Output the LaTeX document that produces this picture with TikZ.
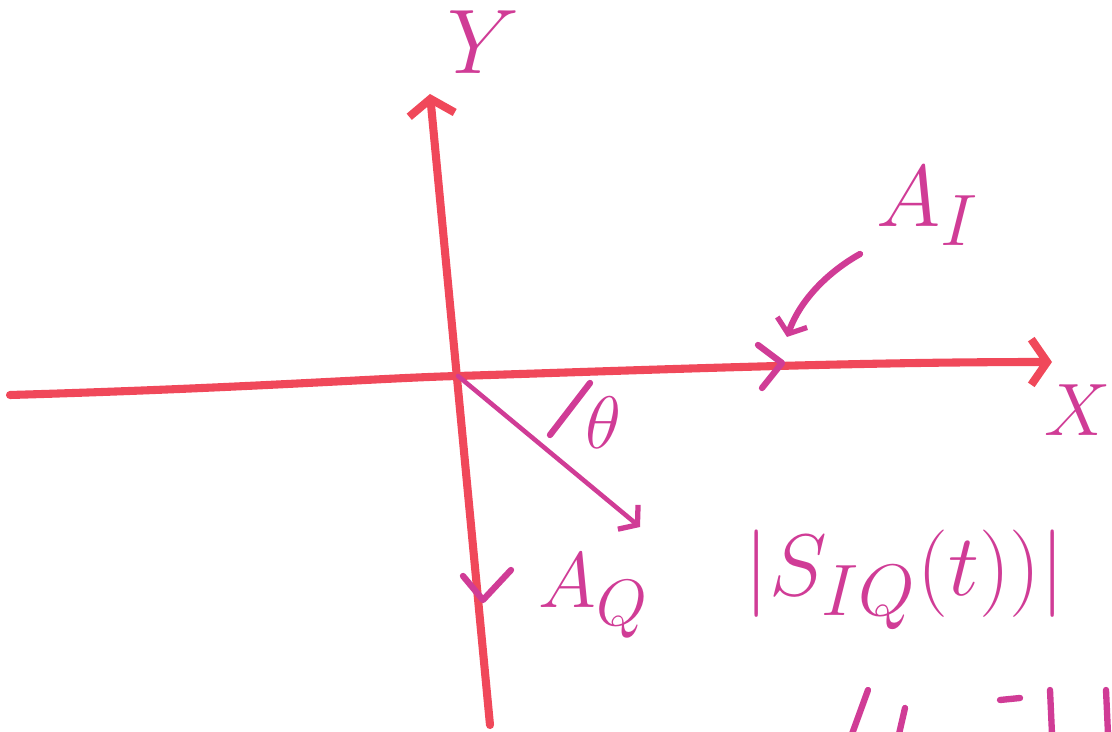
\documentclass[tikz,border=0pt]{standalone}
\usetikzlibrary{calc,arrows.meta}
\definecolor{axisred}{RGB}{240,72,90}
\definecolor{inkpink}{RGB}{208,60,150}

\begin{document}
\begin{tikzpicture}[
    x=0.02cm, y=-0.02cm,
    % Line styles
    axis/.style={draw=axisred, line width=4.6pt, line cap=round, line join=round},
    ink/.style={draw=inkpink, line width=3.6pt, line cap=round, line join=round},
    thin ink/.style={draw=inkpink, line width=2.6pt, line cap=round, line join=round},
    barb/.style={-{Straight Barb[length=9pt, width=26pt, line width=4.6pt]}},
    small barb/.style={-{Straight Barb[length=7pt, width=18pt, line width=3pt]}},
    % Label style
    lbl/.style={text=inkpink, inner sep=0pt, font=\Huge, transform shape, scale=#1},
    lbl/.default=2.1,
]
    \useasboundingbox (0,0) rectangle (1112,732);

    % Axes
    \coordinate (O) at (458,376);
    \coordinate (xstart) at (10,395);
    \coordinate (xend) at (1052,362);
    \coordinate (ystart) at (490,725);
    \coordinate (yend) at (430,94);
    \draw[axis] (xstart) .. controls (250,388) and (380,378) .. (O);
    \draw[axis, barb] (O) .. controls (650,370) and (850,362) .. (xend);
    \draw[axis, barb] (ystart) -- (yend);
    \node[lbl] (ylbl) at (484,42) {$Y$};
    \node[lbl=1.7] (xlbl) at (1078,410) {$X$};

    % In-phase component
    \coordinate (AItick) at (782,363);
    \draw[ink] ($(AItick)+(-24,-18)$) -- (AItick) -- ($(AItick)+(-20,25)$);
    \node[lbl=2.0] (AI) at (928,206) {$A_I$};
    \coordinate (AItail) at (860,254);
    \coordinate (AItip) at (787,337);
    \draw[ink, small barb] (AItail) .. controls (828,272) and (800,300) .. (AItip);

    % Quadrature component
    \coordinate (AQtick) at (483,600);
    \draw[ink] ($(AQtick)+(-20,-24)$) -- (AQtick) -- ($(AQtick)+(28,-30)$);
    \node[lbl=1.8] (AQ) at (594,596) {$A_Q$};

    % Resulting vector and angle
    \coordinate (vtip) at (640,527);
    \draw[thin ink, small barb] (O) -- (vtip);
    \coordinate (arcA) at (550,435);
    \coordinate (arcB) at (590,383);
    \draw[ink] (arcA) -- (arcB);
    \node[lbl=1.7] (theta) at (603,423) {$\theta$};

    % Envelope
    \node[lbl=2.0] (env) at (905,580) {$|S_{IQ}(t))|$};

    % Cut-off line below
    \coordinate (c1) at (868,690);
    \coordinate (c2) at (905,708);
    \coordinate (c3) at (1000,700);
    \coordinate (c4) at (1050,690);
    \coordinate (c5) at (1106,690);
    \draw[ink] (c1) -- ++(-16,44);
    \draw[ink] (c2) -- ++(-6,26);
    \draw[ink] (c3) -- ++(20,-2);
    \draw[ink] (c4) -- ++(2,44);
    \draw[ink] (c5) -- ++(2,44);
\end{tikzpicture}
\end{document}
